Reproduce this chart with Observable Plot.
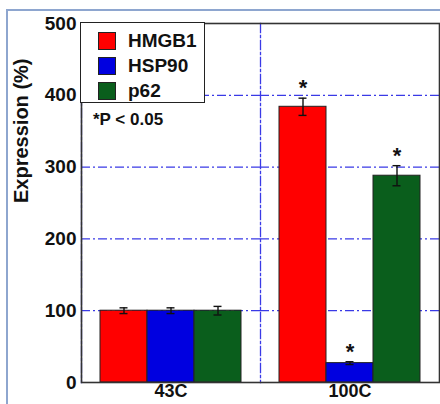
<!DOCTYPE html>
<html><head><meta charset="utf-8">
<script src="https://cdn.jsdelivr.net/npm/d3@7"></script>
<script src="https://cdn.jsdelivr.net/npm/@observablehq/plot@0.6"></script>
<style>
body{margin:0;background:#fff;}
#wrap{position:relative;width:440px;height:404px;overflow:hidden;font-family:"Liberation Sans",Arial,sans-serif;font-weight:bold;color:#111;}
#border{position:absolute;left:6px;top:9px;width:600px;height:600px;border-left:2px solid #8ea6cf;border-top:2px solid #8ea6cf;pointer-events:none;}
#legend{position:absolute;left:80px;top:22px;width:123px;height:79px;border:1.5px solid #222;background:#fff;}
.row{position:absolute;left:0;height:25px;display:flex;align-items:center;font-size:19px;}
.sw{width:16px;height:16px;border:1px solid #222;margin-left:17px;margin-right:12px;}
#note{position:absolute;left:93px;top:110px;font-size:17px;line-height:20px;}
</style></head>
<body>
<div id="wrap"><div id="legend"></div><div id="note">*P &lt; 0.05</div><div id="border"></div></div>
<script>
const groups = ["43C", "100C"];
const series = ["HMGB1", "HSP90", "p62"];
const colors = ["#ff0000", "#0000e0", "#0a5e1c"];
const values43 = [100, 100, 100];
const errors43 = [4, 4, 6];
const values100 = [384, 27, 288];
const errors100 = [12, 2, 14];
const sig43 = [false, false, false];
const sig100 = [true, true, true];
const yTicks = [0, 100, 200, 300, 400, 500];
const gridValues = [100, 200, 300, 400];

const data = [];
series.forEach((s, i) => {
  data.push({group: groups[0], series: s, value: values43[i], err: errors43[i], sig: sig43[i]});
  data.push({group: groups[1], series: s, value: values100[i], err: errors100[i], sig: sig100[i]});
});

const gridStyle = {stroke: "#3a3ae6", strokeWidth: 1.3, strokeDasharray: "9,3,2,3"};

const chart = Plot.plot({
  width: 440, height: 404,
  marginLeft: 80, marginRight: 1, marginTop: 23, marginBottom: 22,
  style: {fontFamily: "'Liberation Sans', Arial, sans-serif", fontWeight: "bold", fontSize: "19px", color: "#111", background: "transparent"},
  fx: {domain: groups, paddingInner: 0, paddingOuter: 0, axis: null},
  x: {domain: series, paddingInner: 0, paddingOuter: 0.375, axis: null},
  y: {domain: [0, 500], ticks: yTicks, tickSize: 0, tickPadding: 5, label: null},
  color: {domain: series, range: colors},
  marks: [
    Plot.ruleY(gridValues, gridStyle),
    Plot.frame({anchor: "left", ...gridStyle}),
    Plot.barY(data, {fx: "group", x: "series", y: "value", fill: "series", stroke: "#222", strokeWidth: 1}),
    Plot.ruleX(data, {fx: "group", x: "series", y1: d => d.value - d.err, y2: d => d.value + d.err, stroke: "#111", strokeWidth: 1.4}),
    Plot.tickY(data, {fx: "group", x: "series", y: d => d.value - d.err, stroke: "#111", strokeWidth: 1.4, insetLeft: 19.5, insetRight: 19.5}),
    Plot.tickY(data, {fx: "group", x: "series", y: d => d.value + d.err, stroke: "#111", strokeWidth: 1.4, insetLeft: 19.5, insetRight: 19.5}),
    Plot.text(data.filter(d => d.sig), {fx: "group", x: "series", y: d => d.value + d.err, text: () => "*", dy: -10, fontSize: 22, fontWeight: "bold", fill: "#111"}),
    Plot.axisFx({domain: groups, anchor: "bottom", tickSize: 0, tickPadding: 2, label: null, fontSize: 18, fontWeight: "bold"}),
    Plot.text(["Expression (%)"], {frameAnchor: "left", rotate: -90, dx: -60, fontSize: 20, fontWeight: "bold", fill: "#111", facet: "super"}),
    Plot.frame({stroke: "#333", strokeWidth: 1.6, facet: "super"})
  ]
});
document.getElementById("wrap").prepend(chart);

const legend = document.getElementById("legend");
series.forEach((s, i) => {
  const row = document.createElement("div");
  row.className = "row";
  row.style.top = (5 + i * 25) + "px";
  const sw = document.createElement("div");
  sw.className = "sw";
  sw.style.background = colors[i];
  const label = document.createElement("span");
  label.textContent = s;
  row.appendChild(sw);
  row.appendChild(label);
  legend.appendChild(row);
});
</script>
</body></html>
